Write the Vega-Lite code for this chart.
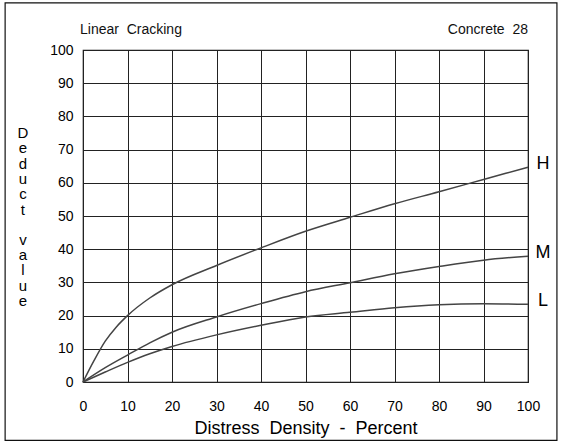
{
  "$schema": "https://vega.github.io/schema/vega-lite/v6.json",
  "width": 445,
  "height": 332,
  "autosize": {"type": "none"},
  "padding": {"left": 83, "top": 50, "right": 35, "bottom": 63},
  "background": "white",
  "config": {
    "font": "Liberation Sans",
    "view": {"stroke": "#111", "strokeWidth": 1.2},
    "axis": {"gridColor": "#222", "gridOpacity": 1, "gridWidth": 1, "ticks": false, "domain": false, "labelColor": "#000", "titleColor": "#000", "labelFont": "Liberation Sans", "titleFont": "Liberation Sans", "titleFontWeight": "normal", "labelOverlap": false, "labelFlush": false, "labelSeparation": 0},
    "axisY": {"labelOverlap": false, "labelSeparation": 0, "tickCount": 11},
    "axisLeft": {"labelOverlap": false},
    "axisQuantitative": {"labelOverlap": false}
  },
  "datasets": {
    "curves": [
      {"series": "H", "x": 0, "y": 0},
      {"series": "H", "x": 2.5, "y": 6.5},
      {"series": "H", "x": 5, "y": 12.3},
      {"series": "H", "x": 7.5, "y": 16.6},
      {"series": "H", "x": 10, "y": 20},
      {"series": "H", "x": 15, "y": 25.3},
      {"series": "H", "x": 20, "y": 29.3},
      {"series": "H", "x": 30, "y": 35.1},
      {"series": "H", "x": 40, "y": 40.4},
      {"series": "H", "x": 50, "y": 45.4},
      {"series": "H", "x": 60, "y": 49.6},
      {"series": "H", "x": 70, "y": 53.7},
      {"series": "H", "x": 80, "y": 57.3},
      {"series": "H", "x": 90, "y": 61},
      {"series": "H", "x": 100, "y": 64.7},
      {"series": "M", "x": 0, "y": 0},
      {"series": "M", "x": 5, "y": 4.3},
      {"series": "M", "x": 10, "y": 8.1},
      {"series": "M", "x": 15, "y": 11.8},
      {"series": "M", "x": 20, "y": 15},
      {"series": "M", "x": 30, "y": 19.6},
      {"series": "M", "x": 40, "y": 23.6},
      {"series": "M", "x": 50, "y": 27.2},
      {"series": "M", "x": 60, "y": 29.9},
      {"series": "M", "x": 70, "y": 32.6},
      {"series": "M", "x": 80, "y": 34.8},
      {"series": "M", "x": 90, "y": 36.7},
      {"series": "M", "x": 100, "y": 37.9},
      {"series": "L", "x": 0, "y": 0},
      {"series": "L", "x": 5, "y": 3},
      {"series": "L", "x": 10, "y": 5.9},
      {"series": "L", "x": 15, "y": 8.5},
      {"series": "L", "x": 20, "y": 10.7},
      {"series": "L", "x": 30, "y": 14.2},
      {"series": "L", "x": 40, "y": 17.1},
      {"series": "L", "x": 50, "y": 19.6},
      {"series": "L", "x": 60, "y": 21},
      {"series": "L", "x": 70, "y": 22.4},
      {"series": "L", "x": 80, "y": 23.3},
      {"series": "L", "x": 90, "y": 23.6},
      {"series": "L", "x": 100, "y": 23.4}
    ],
    "labels": [
      {"series": "H", "x": 100, "y": 64.7},
      {"series": "M", "x": 100, "y": 37.9},
      {"series": "L", "x": 100, "y": 23.4}
    ]
  },
  "layer": [
    {
      "data": {"name": "curves"},
      "mark": {"type": "line", "interpolate": "monotone", "color": "#444", "strokeWidth": 1.5},
      "encoding": {
        "x": {"field": "x", "type": "quantitative", "scale": {"domain": [0, 100], "nice": false},
          "axis": {"values": [0,10,20,30,40,50,60,70,80,90,100], "labelFontSize": 14, "labelPadding": 17, "labelFlush": false, "labelOverlap": false, "title": "Distress\u00a0\u00a0Density\u00a0\u00a0-\u00a0\u00a0Percent", "titleFontSize": 18, "titlePadding": 6}},
        "y": {"field": "y", "type": "quantitative", "scale": {"domain": [0, 100], "nice": false},
          "axis": {"values": [0,10,20,30,40,50,60,70,80,90,100], "labelFontSize": 14, "labelPadding": 10, "labelOverlap": false, "labelFlush": false, "labelBound": false, "labelSeparation": 0, "title": null}},
        "detail": {"field": "series"}
      }
    },
    {
      "data": {"name": "labels"},
      "mark": {"type": "text", "fontSize": 18, "align": "center", "baseline": "middle", "dx": 15, "dy": -3, "color": "#000", "font": "Liberation Sans"},
      "encoding": {
        "x": {"field": "x", "type": "quantitative",
          "axis": {"values": [0,10,20,30,40,50,60,70,80,90,100], "labelFontSize": 14, "labelPadding": 17, "labelFlush": false, "labelOverlap": false, "title": "Distress\u00a0\u00a0Density\u00a0\u00a0-\u00a0\u00a0Percent", "titleFontSize": 18, "titlePadding": 6}},
        "y": {"field": "y", "type": "quantitative",
          "axis": {"values": [0,10,20,30,40,50,60,70,80,90,100], "labelFontSize": 14, "labelPadding": 10, "labelOverlap": false, "labelFlush": false, "labelBound": false, "labelSeparation": 0, "title": null}},
        "text": {"field": "series"}
      }
    },
    {
      "data": {"values": [{"t": "Linear\u00a0\u00a0Cracking", "u": "Concrete\u00a0\u00a028", "d": "D\ne\nd\nu\nc\nt", "v": "v\na\nl\nu\ne"}]},
      "layer": [
        {
          "mark": {"type": "text", "fontSize": 14, "align": "left", "baseline": "alphabetic", "color": "#111", "font": "Liberation Sans", "dx": -3},
          "encoding": {"x": {"datum": 0}, "y": {"datum": 104.8}, "text": {"field": "t"}}
        },
        {
          "mark": {"type": "text", "fontSize": 14, "align": "right", "baseline": "alphabetic", "color": "#111", "font": "Liberation Sans"},
          "encoding": {"x": {"datum": 100}, "y": {"datum": 104.8}, "text": {"field": "u"}}
        },
        {
          "mark": {"type": "text", "fontSize": 15, "align": "center", "baseline": "middle", "lineBreak": "\n", "lineHeight": 15.3, "color": "#000", "font": "Liberation Sans"},
          "encoding": {"x": {"datum": -13.5}, "y": {"datum": 75}, "text": {"field": "d"}}
        },
        {
          "mark": {"type": "text", "fontSize": 15, "align": "center", "baseline": "middle", "lineBreak": "\n", "lineHeight": 15.3, "color": "#000", "font": "Liberation Sans"},
          "encoding": {"x": {"datum": -13.5}, "y": {"datum": 42.8}, "text": {"field": "v"}}
        },
        {
          "mark": {"type": "rect", "fill": null, "stroke": "#111", "strokeWidth": 1.2, "clip": false},
          "encoding": {"x": {"datum": -17.5}, "x2": {"datum": 106.5}, "y": {"datum": 114.2}, "y2": {"datum": -17.6}}
        }
      ]
    }
  ]
}
